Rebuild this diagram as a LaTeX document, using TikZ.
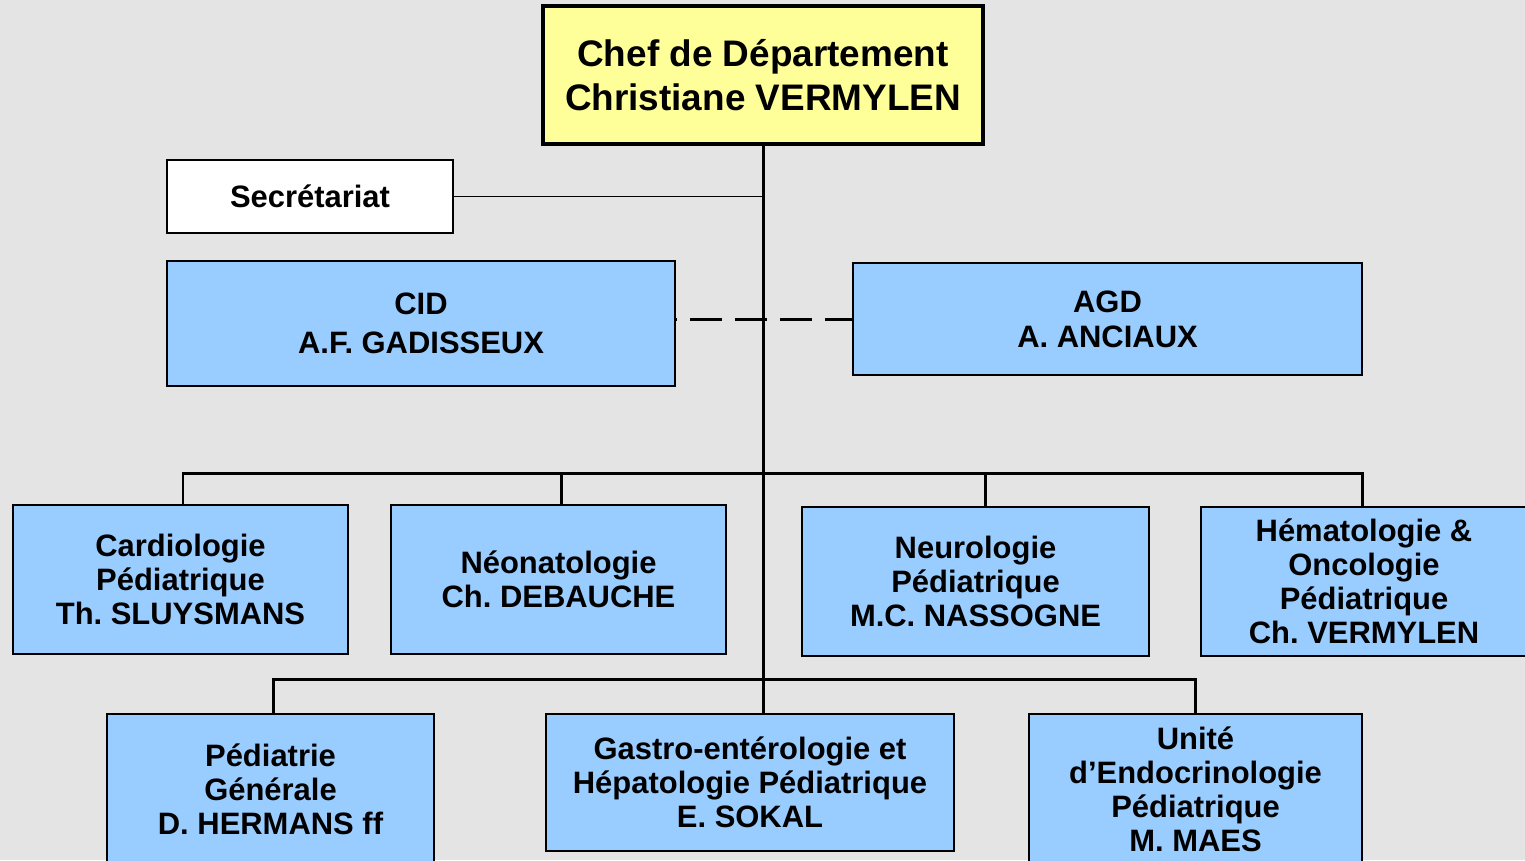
\documentclass[tikz,border=0pt]{standalone}
\usepackage{fontspec}
\setmainfont{Liberation Sans}
\frenchspacing
\usetikzlibrary{positioning}
\definecolor{bgray}{HTML}{E4E4E4}
\definecolor{dblue}{HTML}{99CCFF}
\definecolor{cyell}{HTML}{FFFF99}
\begin{document}
\begin{tikzpicture}[x=0.01cm,y=-0.01cm,
      every node/.style={inner sep=0pt,outer sep=0pt,align=center,
        font=\fontsize{8.8}{9.7}\selectfont\bfseries},
      unit/.style={draw,fill=dblue,line width=0.6pt},
      chef/.style={draw,fill=cyell,line width=1.15pt,
        font=\fontsize{10.5}{12.5}\selectfont\bfseries},
      secr/.style={draw,fill=white,line width=0.6pt},
      wire/.style={line width=0.85pt},
      thin wire/.style={line width=0.5pt},
      link/.style={line width=0.85pt,dash pattern=on 0.32cm off 0.13cm,dash phase=0.30cm}]
      \fill[bgray] (0,0) rectangle (1525,860);
      \useasboundingbox (0,0) rectangle (1525,860);
      % top
      \node[chef, minimum width=4.40cm, minimum height=1.38cm] (chef) at (763,75)
        {Chef de Département\\Christiane VERMYLEN};
      \node[secr, minimum width=2.86cm, minimum height=0.73cm] (secr) at (310,196.5) {Secrétariat};
      \node[unit, minimum width=5.08cm, minimum height=1.25cm,
        font=\fontsize{8.8}{11.1}\selectfont\bfseries] (cid) at (421,323.5) {CID\\A.F. GADISSEUX};
      \node[unit, minimum width=5.09cm, minimum height=1.12cm,
        font=\fontsize{8.8}{10}\selectfont\bfseries] (agd) at (1107.5,319) {AGD\\A. ANCIAUX};
      % first row
      \node[unit, minimum width=3.35cm, minimum height=1.49cm] (cardio) at (180.5,579.5)
        {Cardiologie\\Pédiatrique\\Th. SLUYSMANS};
      \node[unit, minimum width=3.35cm, minimum height=1.49cm] (neonat) at (558.5,579.5)
        {Néonatologie\\Ch. DEBAUCHE};
      \node[unit, minimum width=3.47cm, minimum height=1.49cm] (neuro) at (975.5,581.5)
        {Neurologie\\Pédiatrique\\M.C. NASSOGNE};
      \node[unit, minimum width=3.26cm, minimum height=1.49cm] (hemato) at (1364,581.5)
        {Hématologie \&\\Oncologie\\Pédiatrique\\Ch. VERMYLEN};
      % second row
      \node[unit, minimum width=3.27cm, minimum height=1.50cm] (pedgen) at (270.5,789)
        {Pédiatrie\\Générale\\D. HERMANS ff};
      \node[unit, minimum width=4.08cm, minimum height=1.37cm] (gastro) at (750,782.5)
        {Gastro-entérologie et\\Hépatologie Pédiatrique\\E. SOKAL};
      \node[unit, minimum width=3.33cm, minimum height=1.50cm] (endo) at (1195.5,789)
        {Unité\\d’Endocrinologie\\Pédiatrique\\M. MAES};
      \coordinate (bus1) at (763,473);
      \coordinate (bus2) at (763,679);
      % connectors
      \draw[wire] (chef.south) -- (chef.south |- gastro.north);
      \draw[thin wire] (secr.east) -- (secr.east -| chef.south);
      \draw[link] (cid.east |- agd.west) -- (agd.west);
      \draw[wire] ([xshift=0.025cm]cardio.north) |- (bus1) -| ([xshift=-0.02cm]hemato.north);
      \draw[wire] ([xshift=0.025cm]neonat.north) -- ([xshift=0.025cm]neonat.north |- bus1);
      \draw[wire] ([xshift=0.095cm]neuro.north) -- ([xshift=0.095cm]neuro.north |- bus1);
      \draw[wire] ([xshift=0.025cm]pedgen.north) |- (bus2) -| (endo.north);
    \end{tikzpicture}
\end{document}
